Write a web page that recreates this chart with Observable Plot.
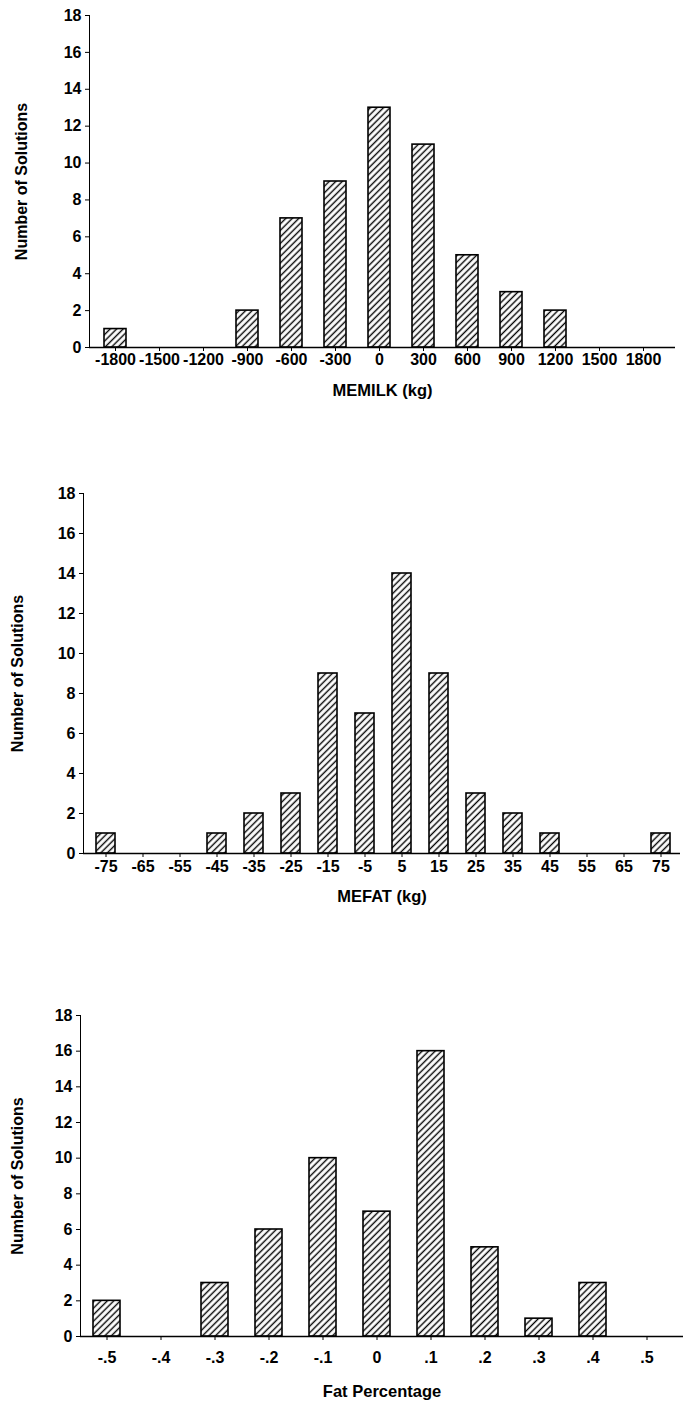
<!DOCTYPE html>
<html><head><meta charset="utf-8">
<script src="https://cdn.jsdelivr.net/npm/d3@7"></script>
<script src="https://cdn.jsdelivr.net/npm/@observablehq/plot@0.6"></script>
<style>
body{margin:0;background:#fff;}
#charts svg{display:block;}
#charts svg [aria-label="x-axis label"] text{font-size:16.5px;font-weight:bold;}
#charts svg [aria-label="y-axis label"] text{font-size:16px;font-weight:bold;}
</style></head><body>
<svg width="0" height="0" style="position:absolute">
  <defs>
    <pattern id="hatch" width="4.6" height="4.6" patternUnits="userSpaceOnUse" patternTransform="rotate(45)">
      <rect width="4.6" height="4.6" fill="white"></rect>
      <line x1="2.3" y1="0" x2="2.3" y2="4.6" stroke="black" stroke-width="1.4"></line>
    </pattern>
  </defs>
</svg>
<div id="charts"></div>
<script>
const yTicks = [0,2,4,6,8,10,12,14,16,18];
const yLabel = "Number of Solutions";

const milkCats = ["-1800","-1500","-1200","-900","-600","-300","0","300","600","900","1200","1500","1800"];
const milkCounts = [1,0,0,2,7,9,13,11,5,3,2,0,0];
const milkLabel = "MEMILK (kg)";

const fatCats = ["-75","-65","-55","-45","-35","-25","-15","-5","5","15","25","35","45","55","65","75"];
const fatCounts = [1,0,0,1,2,3,9,7,14,9,3,2,1,0,0,1];
const fatLabel = "MEFAT (kg)";

const pctCats = ["-.5","-.4","-.3","-.2","-.1","0",".1",".2",".3",".4",".5"];
const pctCounts = [2,0,3,6,10,7,16,5,1,3,0];
const pctLabel = "Fat Percentage";

function makeChart(cats, counts, xLabel, o) {
  const data = cats.map((c, i) => ({cat: c, n: counts[i]}));
  return Plot.plot({
    width: 693,
    height: o.height,
    marginTop: o.mt, marginBottom: o.mb, marginLeft: o.ml, marginRight: o.mr,
    style: {fontFamily: "'Liberation Sans', Arial, sans-serif", fontSize: "16px", fontWeight: "bold", color: "black", background: "white"},
    x: {type: "band", domain: cats, paddingInner: o.pi, paddingOuter: o.po, align: o.al,
        tickSize: 4, tickPadding: o.xtp, label: xLabel, labelAnchor: "center", labelOffset: o.xlo, labelArrow: false},
    y: {domain: [0, 18], ticks: yTicks, tickSize: 4, tickPadding: 4, line: true,
        label: yLabel, labelAnchor: "center", labelOffset: o.ylo, labelArrow: false},
    marks: [
      Plot.barY(data, {x: "cat", y: "n", fill: "url(#hatch)", stroke: "black", strokeWidth: 1.6}),
      Plot.ruleY([0], {strokeWidth: 1.3})
    ]
  });
}

const root = document.getElementById("charts");
root.appendChild(makeChart(milkCats, milkCounts, milkLabel,
  {height: 430, mt: 15, mb: 83, ml: 89, mr: 18, pi: 0.5, po: 0.3, al: 0.41, xtp: 2, xlo: 48, ylo: 74}));
root.appendChild(makeChart(fatCats, fatCounts, fatLabel,
  {height: 500, mt: 63, mb: 77, ml: 83, mr: 13, pi: 0.48, po: 0.236, al: 0.58, xtp: 3, xlo: 48, ylo: 72}));
root.appendChild(makeChart(pctCats, pctCounts, pctLabel,
  {height: 475, mt: 85, mb: 69, ml: 80, mr: 10, pi: 0.5, po: 0.28, al: 0.37, xtp: 11, xlo: 60, ylo: 69}));
</script>
</body></html>
